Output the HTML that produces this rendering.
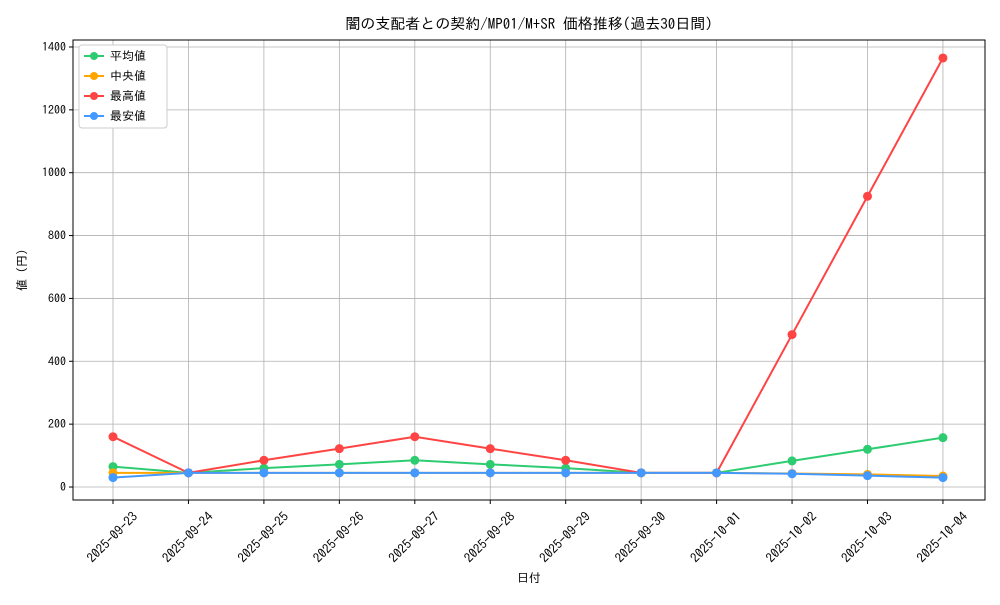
<!DOCTYPE html>
<html><head><meta charset="utf-8"><style>
body{margin:0;background:#fff;}
svg text{font-family:"IPAGothic","Liberation Sans","Noto Sans CJK JP",sans-serif;fill:#000;}
</style></head><body>
<svg width="1000" height="600" xmlns="http://www.w3.org/2000/svg">
<rect width="1000" height="600" fill="#fff"/>
<text x="529" y="29" font-size="15" text-anchor="middle">闇の支配者との契約/MP01/M+SR 価格推移(過去30日間)</text>
<g id="grid" stroke="#b0b0b0" stroke-width="0.8"></g>
<rect x="73" y="40" width="912" height="460" fill="none" stroke="#000" stroke-width="1"/>
<g id="ticks"></g>
<text x="529" y="582" font-size="12" text-anchor="middle">日付</text>
<text transform="translate(26,270) rotate(-90)" font-size="12" text-anchor="middle">値 (円)</text>
<g id="series"></g>
<g>
<rect x="79" y="45" width="88" height="83" fill="#fff" stroke="#ccc" rx="3"/>
<line x1="84" y1="56" x2="104" y2="56" stroke="#2ecc71" stroke-width="2"/><circle cx="94" cy="56" r="4" fill="#2ecc71"/><text x="110" y="60" font-size="12">平均値</text>
<line x1="84" y1="76" x2="104" y2="76" stroke="#ffa500" stroke-width="2"/><circle cx="94" cy="76" r="4" fill="#ffa500"/><text x="110" y="80" font-size="12">中央値</text>
<line x1="84" y1="96" x2="104" y2="96" stroke="#ff4444" stroke-width="2"/><circle cx="94" cy="96" r="4" fill="#ff4444"/><text x="110" y="100" font-size="12">最高値</text>
<line x1="84" y1="116" x2="104" y2="116" stroke="#4499ff" stroke-width="2"/><circle cx="94" cy="116" r="4" fill="#4499ff"/><text x="110" y="120" font-size="12">最安値</text>
</g>
</svg>
<script>
const NS="http://www.w3.org/2000/svg";
function el(p,t,a,txt){const e=document.createElementNS(NS,t);for(const k in a)e.setAttribute(k,a[k]);if(txt!=null)e.textContent=txt;document.getElementById(p).appendChild(e);}
const X=i=>113+i*75.45, Y=v=>487-v*0.3143;
const dates=["2025-09-23","2025-09-24","2025-09-25","2025-09-26","2025-09-27","2025-09-28","2025-09-29","2025-09-30","2025-10-01","2025-10-02","2025-10-03","2025-10-04"];
for(let v=0;v<=1400;v+=200){el("grid","line",{x1:73,x2:985,y1:Y(v),y2:Y(v)});
el("ticks","line",{x1:69,x2:73,y1:Y(v),y2:Y(v),stroke:"#000"});
el("ticks","text",{x:66,y:Y(v)+4,"font-size":12,"text-anchor":"end"},v);}
dates.forEach((d,i)=>{el("grid","line",{x1:X(i),x2:X(i),y1:40,y2:500});
el("ticks","line",{x1:X(i),x2:X(i),y1:500,y2:504,stroke:"#000"});
el("ticks","text",{transform:`translate(${X(i)},538) rotate(-45)`,"font-size":13,"text-anchor":"middle","dominant-baseline":"middle"},d);});
const S=[["#2ecc71",[65,45,60,72,85,72,60,45,45,83,120,157]],["#ffa500",[45,45,45,45,45,45,45,45,45,43,40,35]],["#ff4444",[160,45,85,122,160,122,85,45,45,485,925,1365]],["#4499ff",[30,45,45,45,45,45,45,45,45,42,36,30]]];
S.forEach(([c,d])=>{el("series","polyline",{points:d.map((v,i)=>X(i)+","+Y(v)).join(" "),fill:"none",stroke:c,"stroke-width":2});
d.forEach((v,i)=>el("series","circle",{cx:X(i),cy:Y(v),r:4.5,fill:c}));});
</script>
</body></html>
